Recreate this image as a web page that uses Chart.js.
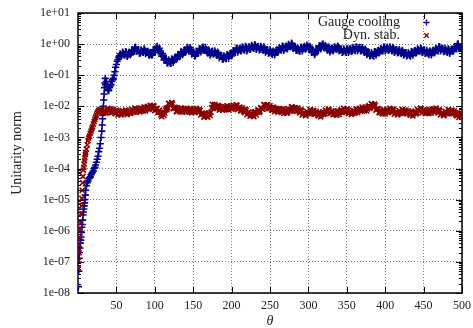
<!DOCTYPE html>
<html><head><meta charset="utf-8">
<script src="https://cdn.jsdelivr.net/npm/chart.js@4.4.0/dist/chart.umd.min.js"></script>
<style>html,body{margin:0;padding:0;background:#fff}canvas{display:block}</style>
</head><body>
<canvas id="c" width="473" height="328"></canvas>
<script>
const theta = [
0.5,1,1.5,2,2.5,3,3.5,4,4.5,5,
5.5,6,6.5,7,7.5,8,8.5,9,9.5,10,
11,13,15,17,19,21,23,25,27,29,
31,33,35,37,39,41,43,45,47,49,
51,53,55,57,59,61,63,65,67,69,
71,73,75,77,79,81,83,85,87,89,
91,93,95,97,99,101,103,105,107,109,
111,113,115,117,119,121,123,125,127,129,
131,133,135,137,139,141,143,145,147,149,
151,153,155,157,159,161,163,165,167,169,
171,173,175,177,179,181,183,185,187,189,
191,193,195,197,199,201,203,205,207,209,
211,213,215,217,219,221,223,225,227,229,
231,233,235,237,239,241,243,245,247,249,
251,253,255,257,259,261,263,265,267,269,
271,273,275,277,279,281,283,285,287,289,
291,293,295,297,299,301,303,305,307,309,
311,313,315,317,319,321,323,325,327,329,
331,333,335,337,339,341,343,345,347,349,
351,353,355,357,359,361,363,365,367,369,
371,373,375,377,379,381,383,385,387,389,
391,393,395,397,399,401,403,405,407,409,
411,413,415,417,419,421,423,425,427,429,
431,433,435,437,439,441,443,445,447,449,
451,453,455,457,459,461,463,465,467,469,
471,473,475,477,479,481,483,485,487,489,
491,493,495,497,499];

// second pass of readings, even theta
const thetaEven = [
32,34,36,38,40,42,44,46,48,50,52,54,
56,58,60,62,64,66,68,70,72,74,76,78,80,82,84,86,88,90,
92,94,96,98,100,102,104,106,108,110,112,114,116,118,120,122,124,126,128,130,
132,134,136,138,140,142,144,146,148,150,152,154,156,158,160,162,164,166,168,170,
172,174,176,178,180,182,184,186,188,190,192,194,196,198,200,202,204,206,208,210,
212,214,216,218,220,222,224,226,228,230,232,234,236,238,240,242,244,246,248,250,
252,254,256,258,260,262,264,266,268,270,272,274,276,278,280,282,284,286,288,290,
292,294,296,298,300,302,304,306,308,310,312,314,316,318,320,322,324,326,328,330,
332,334,336,338,340,342,344,346,348,350,352,354,356,358,360,362,364,366,368,370,
372,374,376,378,380,382,384,386,388,390,392,394,396,398,400,402,404,406,408,410,
412,414,416,418,420,422,424,426,428,430,432,434,436,438,440,442,444,446,448,450,
452,454,456,458,460,462,464,466,468,470,472,474,476,478,480,482,484,486,488,490,
492,494,496,498];

const gaugeCooling = [
1.6e-8,5.0e-8,1.3e-7,2.0e-7,2.8e-7,4.0e-7,5.0e-7,6.3e-7,8.9e-7,1.3e-6,
1.6e-6,2.2e-6,3.2e-6,4.0e-6,5.0e-6,6.3e-6,7.9e-6,1.0e-5,1.4e-5,2.0e-5,
2.8e-5,4.0e-5,5.0e-5,6.3e-5,7.6e-5,1.0e-4,1.3e-4,2.0e-4,3.5e-4,6.3e-4,
1.6e-3,1.0e-2,5.6e-2,6.3e-2,3.5e-2,4.0e-2,5.0e-2,7.1e-2,0.10,0.18,
0.28,0.38,0.49,0.43,0.51,0.44,0.54,0.45,0.55,0.49,
0.62,0.58,0.79,0.62,0.65,0.52,0.61,0.54,0.66,0.54,
0.59,0.45,0.47,0.46,0.66,0.65,0.85,0.67,0.60,0.41,
0.44,0.32,0.33,0.25,0.28,0.24,0.33,0.30,0.38,0.35,
0.44,0.41,0.56,0.52,0.66,0.60,0.76,0.63,0.68,0.51,
0.52,0.43,0.56,0.52,0.71,0.65,0.80,0.65,0.67,0.51,
0.59,0.49,0.60,0.50,0.54,0.43,0.50,0.40,0.43,0.33,
0.38,0.34,0.45,0.41,0.51,0.46,0.59,0.56,0.72,0.63,
0.74,0.64,0.76,0.64,0.80,0.69,0.83,0.72,0.85,0.73,
0.92,0.75,0.83,0.68,0.77,0.63,0.75,0.60,0.66,0.52,
0.58,0.47,0.56,0.52,0.66,0.59,0.72,0.65,0.83,0.72,
0.86,0.76,0.93,0.82,1.0,0.79,0.83,0.63,0.66,0.59,
0.78,0.70,0.85,0.73,0.86,0.69,0.76,0.56,0.55,0.51,
0.66,0.63,0.89,0.82,1.02,0.77,0.79,0.63,0.75,0.63,
0.75,0.65,0.76,0.67,0.82,0.65,0.69,0.56,0.64,0.54,
0.70,0.61,0.72,0.61,0.72,0.62,0.79,0.68,0.79,0.63,
0.68,0.54,0.63,0.50,0.54,0.43,0.48,0.41,0.56,0.52,
0.63,0.56,0.68,0.60,0.78,0.68,0.79,0.66,0.74,0.60,
0.72,0.59,0.67,0.54,0.60,0.49,0.59,0.48,0.53,0.43,
0.48,0.41,0.56,0.52,0.63,0.54,0.65,0.58,0.70,0.58,
0.65,0.51,0.56,0.46,0.58,0.52,0.64,0.56,0.68,0.61,
0.81,0.67,0.73,0.59,0.65,0.54,0.66,0.57,0.70,0.62,
0.78,0.72,1.0,0.74,0.74];

// Gauge cooling, even theta from 56 (thetaEven index 12 on)
const gaugeCoolingEven = [
0.40,0.55,0.46,0.57,0.40,0.52,0.45,0.65,0.58,0.79,0.58,0.66,0.50,0.66,0.55,0.70,0.49,0.59,
0.45,0.54,0.45,0.65,0.54,0.78,0.66,0.74,0.48,0.50,0.31,0.34,0.25,0.31,0.25,0.33,0.26,0.35,0.32,0.46,
0.41,0.56,0.45,0.62,0.55,0.79,0.67,0.77,0.48,0.54,0.41,0.58,0.52,0.72,0.56,0.76,0.63,0.78,0.57,0.65,
0.44,0.57,0.48,0.61,0.47,0.55,0.37,0.43,0.33,0.42,0.35,0.46,0.35,0.48,0.42,0.61,0.56,0.75,0.55,0.71,
0.60,0.82,0.67,0.84,0.61,0.79,0.68,0.92,0.76,0.96,0.68,0.83,0.65,0.85,0.67,0.81,0.55,0.66,0.51,0.65,
0.50,0.60,0.45,0.62,0.54,0.77,0.66,0.86,0.63,0.82,0.70,0.99,0.84,1.07,0.73,0.85,0.63,0.76,0.60,0.79,
0.60,0.80,0.69,0.93,0.75,0.85,0.54,0.58,0.46,0.68,0.62,0.88,0.70,0.96,0.77,0.92,0.69,0.81,0.56,0.72,
0.61,0.82,0.69,0.87,0.60,0.70,0.54,0.70,0.57,0.72,0.54,0.69,0.58,0.78,0.64,0.82,0.60,0.77,0.61,0.77,
0.59,0.69,0.46,0.54,0.42,0.53,0.43,0.57,0.44,0.60,0.52,0.72,0.61,0.80,0.60,0.76,0.63,0.82,0.65,0.78,
0.54,0.66,0.52,0.67,0.52,0.63,0.44,0.53,0.42,0.53,0.43,0.57,0.44,0.60,0.51,0.70,0.59,0.75,0.53,0.64,
0.50,0.63,0.49,0.60,0.45,0.61,0.52,0.73,0.62,0.83,0.60,0.73,0.57,0.73,0.57,0.70,0.50,0.66,0.58,0.82,
0.72,1.0,0.71,0.78];

// extra Gauge-cooling readings in the steep rise
const gaugeRiseTheta = [12,14,16,18,20,22,24,26,28,30,31.5,32,32.5,33.5,34,34.5,35.5,36,38,40,42,44,46,48,50,52,54];
const gaugeRise = [3.5e-5,4.7e-5,5.4e-5,7.1e-5,8.3e-5,1.1e-4,1.6e-4,2.5e-4,4.5e-4,1.0e-3,2.5e-3,4.0e-3,6.3e-3,1.6e-2,2.5e-2,4.0e-2,7.9e-2,5.0e-2,4.5e-2,3.2e-2,4.5e-2,6.3e-2,7.9e-2,0.13,0.22,0.32,0.42];

const dynStab = [
6.3e-8,1.1e-7,2.0e-7,3.5e-7,6.3e-7,1.1e-6,1.8e-6,3.5e-6,6.3e-6,1.1e-5,
2.0e-5,3.5e-5,5.6e-5,8.9e-5,1.1e-4,1.4e-4,1.8e-4,2.2e-4,2.8e-4,3.3e-4,
4.2e-4,7.9e-4,1.1e-3,1.6e-3,2.2e-3,3.2e-3,4.5e-3,6.0e-3,7.1e-3,7.9e-3,
0.0076,0.0060,0.0066,0.0062,0.0085,0.0074,0.0081,0.0065,0.0071,0.0058,
0.0070,0.0059,0.0066,0.0057,0.0068,0.0058,0.0072,0.0060,0.0072,0.0063,
0.0075,0.0066,0.0085,0.0072,0.0083,0.0070,0.0082,0.0071,0.0093,0.0083,
0.0099,0.0085,0.0100,0.0082,0.0100,0.0080,0.0084,0.0065,0.0064,0.0047,
0.0065,0.0060,0.0087,0.0091,0.0122,0.0106,0.0119,0.0089,0.0089,0.0069,
0.0079,0.0068,0.0085,0.0072,0.0083,0.0069,0.0078,0.0066,0.0082,0.0070,
0.0081,0.0068,0.0079,0.0063,0.0073,0.0057,0.0058,0.0047,0.0053,0.0045,
0.0058,0.0063,0.0115,0.0092,0.0102,0.0084,0.0101,0.0083,0.0095,0.0079,
0.0092,0.0079,0.0100,0.0087,0.0101,0.0086,0.0100,0.0087,0.0105,0.0085,
0.0093,0.0073,0.0079,0.0063,0.0073,0.0059,0.0064,0.0050,0.0054,0.0047,
0.0067,0.0063,0.0077,0.0069,0.0087,0.0081,0.0111,0.0101,0.0114,0.0086,
0.0091,0.0074,0.0089,0.0074,0.0084,0.0068,0.0077,0.0064,0.0079,0.0066,
0.0075,0.0064,0.0078,0.0071,0.0095,0.0082,0.0090,0.0072,0.0077,0.0061,
0.0072,0.0057,0.0062,0.0054,0.0065,0.0058,0.0076,0.0068,0.0073,0.0057,
0.0061,0.0049,0.0059,0.0054,0.0067,0.0059,0.0071,0.0063,0.0077,0.0064,
0.0070,0.0055,0.0059,0.0052,0.0069,0.0063,0.0077,0.0069,0.0077,0.0064,
0.0078,0.0063,0.0069,0.0059,0.0069,0.0061,0.0081,0.0072,0.0086,0.0074,
0.0086,0.0072,0.0089,0.0083,0.0105,0.0094,0.0114,0.0094,0.0106,0.0080,
0.0082,0.0063,0.0068,0.0057,0.0073,0.0065,0.0079,0.0069,0.0077,0.0064,
0.0077,0.0061,0.0066,0.0057,0.0068,0.0060,0.0077,0.0068,0.0074,0.0059,
0.0065,0.0052,0.0063,0.0057,0.0070,0.0062,0.0075,0.0068,0.0083,0.0069,
0.0076,0.0060,0.0066,0.0059,0.0078,0.0069,0.0083,0.0072,0.0077,0.0061,
0.0072,0.0057,0.0062,0.0054,0.0065,0.0058,0.0076,0.0068,0.0074,0.0059,
0.0063,0.0049,0.0056,0.0050,0.0060];

// Dyn. stab., even theta from 32
const dynStabEven = [
0.0059,0.0074,0.0062,0.0085,0.0065,0.0081,0.0063,0.0079,0.0062,0.0075,0.0053,0.0065,
0.0053,0.0073,0.0061,0.0076,0.0054,0.0069,0.0059,0.0081,0.0068,0.0088,0.0065,0.0081,0.0066,0.0089,0.0073,0.0095,0.0072,0.0095,
0.0080,0.0108,0.0087,0.0106,0.0073,0.0086,0.0064,0.0075,0.0053,0.0065,0.0051,0.0076,0.0078,0.0124,0.0110,0.0132,0.0085,0.0093,0.0068,0.0087,
0.0071,0.0089,0.0065,0.0081,0.0066,0.0086,0.0069,0.0086,0.0062,0.0079,0.0065,0.0086,0.0068,0.0080,0.0053,0.0060,0.0045,0.0059,0.0047,0.0060,
0.0050,0.0089,0.0090,0.0114,0.0089,0.0108,0.0076,0.0093,0.0076,0.0100,0.0082,0.0104,0.0077,0.0098,0.0081,0.0109,0.0090,0.0112,0.0078,0.0093,
0.0072,0.0090,0.0068,0.0080,0.0054,0.0064,0.0049,0.0061,0.0049,0.0066,0.0053,0.0073,0.0064,0.0091,0.0081,0.0112,0.0087,0.0112,0.0086,0.0104,
0.0079,0.0095,0.0067,0.0083,0.0066,0.0085,0.0068,0.0083,0.0059,0.0074,0.0060,0.0083,0.0072,0.0096,0.0072,0.0090,0.0070,0.0088,0.0066,0.0078,
0.0053,0.0062,0.0050,0.0069,0.0059,0.0078,0.0059,0.0073,0.0056,0.0069,0.0053,0.0063,0.0046,0.0063,0.0055,0.0076,0.0065,0.0082,0.0058,0.0070,
0.0054,0.0067,0.0054,0.0071,0.0054,0.0073,0.0064,0.0086,0.0068,0.0083,0.0058,0.0069,0.0055,0.0074,0.0062,0.0082,0.0063,0.0083,0.0070,0.0094,
0.0076,0.0094,0.0071,0.0098,0.0086,0.0122,0.0100,0.0117,0.0076,0.0085,0.0063,0.0077,0.0060,0.0076,0.0057,0.0075,0.0064,0.0086,0.0068,0.0082,
0.0056,0.0067,0.0053,0.0073,0.0062,0.0080,0.0059,0.0074,0.0058,0.0072,0.0056,0.0068,0.0049,0.0066,0.0057,0.0080,0.0069,0.0088,0.0062,0.0076,
0.0059,0.0074,0.0060,0.0079,0.0060,0.0079,0.0068,0.0088,0.0066,0.0078,0.0053,0.0062,0.0050,0.0069,0.0059,0.0078,0.0059,0.0074,0.0058,0.0072,
0.0054,0.0062,0.0044,0.0058];

// extra Dyn. stab. readings in the rise
const dynStabRiseTheta = [12,14,16,18,20,22,24,26,28,30];
const dynStabRise = [5.8e-4,9.5e-4,1.35e-3,1.9e-3,2.7e-3,3.8e-3,5.2e-3,6.6e-3,7.6e-3,7.6e-3];

const seriesLabels = ['Gauge cooling', 'Dyn. stab.'];
const xTickValues = [50,100,150,200,250,300,350,400,450,500];
const yTickValues = [1e-8,1e-7,1e-6,1e-5,1e-4,1e-3,1e-2,1e-1,1e0,1e1];
const yTickLabels = ['1e-08','1e-07','1e-06','1e-05','1e-04','1e-03','1e-02','1e-01','1e+00','1e+01'];
const xTitle = 'θ';
const yTitle = 'Unitarity norm';

const BLUE = '#00008b', RED = '#8b0000';
const FONT = 'Liberation Serif';

function pts(xs, ys){ const n=Math.min(xs.length, ys.length); const a=[]; for(let i=0;i<n;i++) a.push({x:xs[i], y:ys[i]}); return a; }

const framePlugin = {
  id: 'frame',
  beforeDatasetsDraw(chart){
    const {ctx, chartArea:{left,right,top,bottom}, scales:{x,y}} = chart;
    ctx.save();
    ctx.strokeStyle = '#000'; ctx.lineWidth = 1;
    ctx.beginPath();
    xTickValues.forEach(v => {
      const px = Math.round(x.getPixelForValue(v)) + 0.5;
      ctx.moveTo(px, bottom); ctx.lineTo(px, bottom - 6);
      ctx.moveTo(px, top); ctx.lineTo(px, top + 6);
    });
    yTickValues.forEach(v => {
      for (let m = 1; m <= 9; m++) {
        const val = v * m;
        if (val > yTickValues[yTickValues.length-1]) break;
        const py = Math.round(y.getPixelForValue(val)) + 0.5;
        const len = m === 1 ? 6 : 3;
        ctx.moveTo(left, py); ctx.lineTo(left + len, py);
        ctx.moveTo(right, py); ctx.lineTo(right - len, py);
      }
    });
    ctx.stroke();
    ctx.lineWidth = 1.5;
    ctx.strokeRect(left, top, right - left, bottom - top);
    ctx.restore();
  }
};

const legendPlugin = {
  id: 'keybox',
  afterDatasetsDraw(chart){
    const ctx = chart.ctx;
    ctx.save();
    ctx.font = '14px "' + FONT + '"';
    ctx.fillStyle = '#222';
    ctx.textAlign = 'right';
    ctx.textBaseline = 'middle';
    const rows = [{y:22, c:BLUE, s:'cross'}, {y:35, c:RED, s:'crossRot'}];
    rows.forEach((r, i) => {
      ctx.fillText(seriesLabels[i], 400, r.y);
      ctx.strokeStyle = r.c; ctx.lineWidth = 1.3;
      ctx.beginPath();
      const cx = 426.5, cy = r.y + 0.5, h = 3;
      if (r.s === 'cross') { ctx.moveTo(cx-h, cy); ctx.lineTo(cx+h, cy); ctx.moveTo(cx, cy-h); ctx.lineTo(cx, cy+h); }
      else { ctx.moveTo(cx-h+0.8, cy-h+0.8); ctx.lineTo(cx+h-0.8, cy+h-0.8); ctx.moveTo(cx-h+0.8, cy+h-0.8); ctx.lineTo(cx+h-0.8, cy-h+0.8); }
      ctx.stroke();
    });
    ctx.restore();
  }
};

const blueData = pts(theta, gaugeCooling)
  .concat(pts(thetaEven.slice(12), gaugeCoolingEven))
  .concat(pts(gaugeRiseTheta, gaugeRise));
const redData = pts(theta, dynStab)
  .concat(pts(thetaEven, dynStabEven))
  .concat(pts(dynStabRiseTheta, dynStabRise));

new Chart(document.getElementById('c'), {
  type: 'scatter',
  data: {
    datasets: [
      { label: seriesLabels[1], data: redData, showLine: false,
        pointStyle: 'crossRot', pointRadius: 3.6, pointBorderWidth: 1.6,
        borderColor: RED, backgroundColor: RED, order: 0 },
      { label: seriesLabels[0], data: blueData, showLine: false,
        pointStyle: 'cross', pointRadius: 3.6, pointBorderWidth: 1.6,
        borderColor: BLUE, backgroundColor: BLUE, order: 1 }
    ]
  },
  options: {
    responsive: false, animation: false, events: [],
    layout: { padding: { left: 0, top: 13, right: 11, bottom: 0 } },
    plugins: { legend: { display: false }, tooltip: { enabled: false } },
    scales: {
      x: {
        type: 'linear', min: 0, max: 500,
        afterBuildTicks: s => { s.ticks = xTickValues.map(v => ({ value: v })); },
        afterFit: s => { s.height = 35; s.paddingLeft = 0; s.paddingRight = 0; },
        ticks: { autoSkip: false, maxRotation: 0, padding: 6, color: '#222', font: { family: FONT, size: 12 } },
        grid: { color: '#777', lineWidth: 1, drawTicks: false },
        border: { display: false, dash: [1, 2] },
        title: { display: true, text: xTitle, color: '#222', font: { family: FONT, size: 14, style: 'italic', lineHeight: 1 }, padding: { top: 0, bottom: 0 } }
      },
      y: {
        type: 'logarithmic', min: 1e-8, max: 10,
        afterBuildTicks: s => { s.ticks = yTickValues.map(v => ({ value: v })); },
        afterFit: s => { s.width = 78; s.paddingTop = 0; s.paddingBottom = 0; },
        ticks: { autoSkip: false, padding: 8, color: '#222', font: { family: FONT, size: 12 },
                 callback: (v, i) => yTickLabels[i] },
        grid: { color: '#777', lineWidth: 1, drawTicks: false },
        border: { display: false, dash: [1, 2] },
        title: { display: true, text: yTitle, color: '#222', font: { family: FONT, size: 14, lineHeight: 1 }, padding: { top: 10, bottom: 0 } }
      }
    }
  },
  plugins: [framePlugin, legendPlugin]
});
</script>
</body></html>
